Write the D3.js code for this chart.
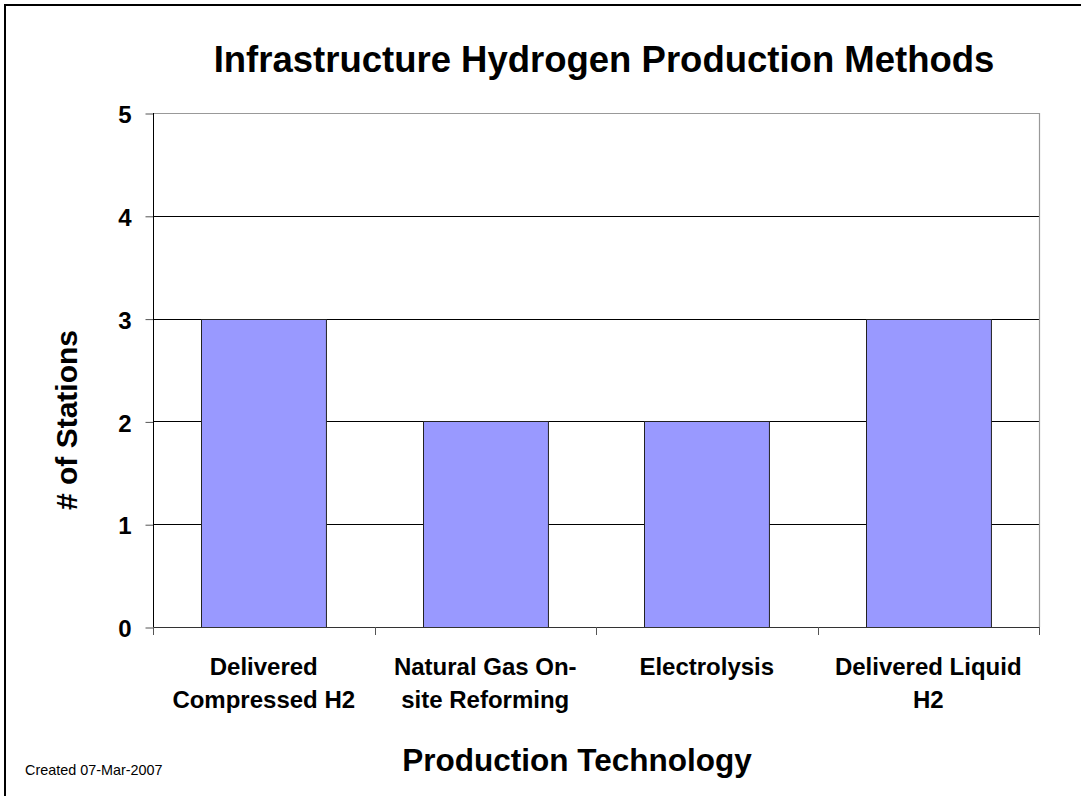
<!DOCTYPE html>
<html>
<head>
<meta charset="utf-8">
<script src="https://cdn.jsdelivr.net/npm/d3@7/dist/d3.min.js"></script>
<style>
  html, body { margin: 0; padding: 0; background: #fff; overflow: hidden; }
  svg { display: block; font-family: Arial, "Liberation Sans", sans-serif; }
</style>
</head>
<body>
<svg id="chart" width="1081" height="796"></svg>
<script>
// chart data
const categories = ['Delivered Compressed H2', 'Natural Gas On-site Reforming', 'Electrolysis', 'Delivered Liquid H2'];
const catLines = [['Delivered', 'Compressed H2'], ['Natural Gas On-', 'site Reforming'], ['Electrolysis'], ['Delivered Liquid', 'H2']];
const stations = [3, 2, 2, 3];
const yTicks = [0, 1, 2, 3, 4, 5];

const svg = d3.select('#chart');
const plot = { left: 153, top: 113, right: 1039, bottom: 627 };

// outer frame (only top/left edges are visible in the picture)
svg.append('rect')
  .attr('x', 5).attr('y', 5)
  .attr('width', 1200).attr('height', 1200)
  .attr('fill', 'none')
  .attr('stroke', '#000')
  .attr('stroke-width', 2);

const x = d3.scaleBand()
  .domain(categories)
  .range([plot.left, plot.right])
  .paddingInner(0.436)
  .paddingOuter(0.218);

const y = d3.scaleLinear()
  .domain([0, 5])
  .range([plot.bottom, plot.top]);

// gridlines
svg.append('g')
  .selectAll('line')
  .data(yTicks.filter(d => d > 0 && d < 5))
  .enter()
  .append('line')
  .attr('x1', plot.left).attr('x2', plot.right)
  .attr('y1', d => Math.round(y(d)) + 0.5)
  .attr('y2', d => Math.round(y(d)) + 0.5)
  .attr('stroke', '#000')
  .attr('stroke-width', 1);

// plot area border (top and right, grey)
svg.append('path')
  .attr('d', `M${plot.left},${plot.top + 0.5}H${plot.right + 0.5}V${plot.bottom}`)
  .attr('fill', 'none')
  .attr('stroke', '#999')
  .attr('stroke-width', 1.2);

// bars
svg.append('g')
  .selectAll('rect')
  .data(stations)
  .enter()
  .append('rect')
  .attr('x', (d, i) => Math.round(x(categories[i])) + 0.5)
  .attr('y', d => Math.round(y(d)) + 0.5)
  .attr('width', x.bandwidth())
  .attr('height', d => Math.round(y(0)) - Math.round(y(d)))
  .attr('fill', '#9999FF')
  .attr('stroke', '#222')
  .attr('stroke-width', 1);

// y axis
const yAxis = svg.append('g')
  .attr('transform', `translate(${plot.left + 0.5},0)`)
  .call(d3.axisLeft(y).tickValues(yTicks).tickSize(8).tickPadding(14).tickFormat(d3.format('d')));
yAxis.select('.domain').remove();
yAxis.selectAll('.tick line').attr('stroke', '#555').attr('transform', 'translate(0,0.5)');
yAxis.selectAll('.tick text')
  .attr('font-family', 'Arial, "Liberation Sans", sans-serif')
  .attr('font-size', 24)
  .attr('font-weight', 'bold')
  .attr('fill', '#000')
  .attr('dy', '0.4em');
yAxis.append('line')
  .attr('y1', plot.top).attr('y2', plot.bottom + 8)
  .attr('stroke', '#000');

// x axis: ticks at category boundaries
const bounds = categories.map(c => x(c) - x.step() * x.paddingOuter())
  .concat([plot.right]);
svg.append('line')
  .attr('x1', plot.left).attr('x2', plot.right)
  .attr('y1', plot.bottom + 0.5).attr('y2', plot.bottom + 0.5)
  .attr('stroke', '#333');
svg.append('g')
  .selectAll('line')
  .data(bounds)
  .enter()
  .append('line')
  .attr('x1', d => Math.round(d) + 0.5).attr('x2', d => Math.round(d) + 0.5)
  .attr('y1', plot.bottom).attr('y2', plot.bottom + 8)
  .attr('stroke', '#555');

// category labels (two lines)
const lab = svg.append('g')
  .selectAll('text')
  .data(catLines)
  .enter()
  .append('text')
  .attr('x', (d, i) => x(categories[i]) + x.bandwidth() / 2)
  .attr('y', 675)
  .attr('text-anchor', 'middle')
  .attr('font-size', 24)
  .attr('font-weight', 'bold')
  .attr('fill', '#000');
lab.selectAll('tspan')
  .data(d => d)
  .enter()
  .append('tspan')
  .attr('x', function () { return d3.select(this.parentNode).attr('x'); })
  .attr('dy', (d, i) => i === 0 ? 0 : 33)
  .text(d => d);

// title
svg.append('text')
  .attr('x', 604).attr('y', 72)
  .attr('text-anchor', 'middle')
  .attr('font-size', 36.5)
  .attr('font-weight', 'bold')
  .text('Infrastructure Hydrogen Production Methods');

// axis titles
svg.append('text')
  .attr('x', 577).attr('y', 771)
  .attr('text-anchor', 'middle')
  .attr('font-size', 31.5)
  .attr('font-weight', 'bold')
  .text('Production Technology');

svg.append('text')
  .attr('transform', 'translate(77,420) rotate(-90)')
  .attr('text-anchor', 'middle')
  .attr('font-size', 30)
  .attr('font-weight', 'bold')
  .text('# of Stations');

svg.append('text')
  .attr('x', 25).attr('y', 775)
  .attr('font-size', 14.4)
  .text('Created 07-Mar-2007');
</script>
</body>
</html>
